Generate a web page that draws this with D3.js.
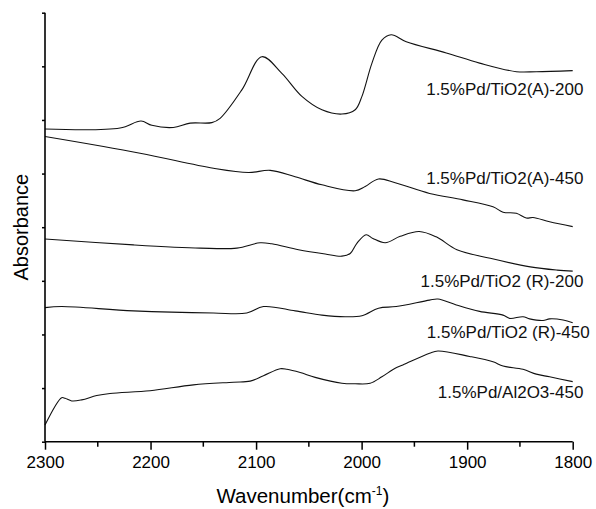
<!DOCTYPE html>
<html>
<head>
<meta charset="utf-8">
<script src="https://cdn.jsdelivr.net/npm/d3@7"></script>
<style>
  body { margin: 0; background: #fff; }
  svg { font-family: "Liberation Sans", Arial, sans-serif; }
</style>
</head>
<body>
<div id="chart"></div>
<script>
// Chart size
const width = 596;
const height = 509;
const margin = { top: 12.7, right: 23.3, bottom: 67.3, left: 45 };
const innerW = width - margin.left - margin.right;
const innerH = height - margin.top - margin.bottom;

// Data (wavenumber, absorbance in arbitrary offset units)
const names = [
  "1.5%Pd/TiO2(A)-200",
  "1.5%Pd/TiO2(A)-450",
  "1.5%Pd/TiO2 (R)-200",
  "1.5%Pd/TiO2 (R)-450",
  "1.5%Pd/Al2O3-450"
];

const tiA200 = [
  [2300, 5.83], [2228.9, 5.85], [2209, 5.98], [2198.8, 5.90], [2178.4, 5.86],
  [2162.5, 5.94], [2141.9, 5.95], [2134.1, 6.03], [2113.5, 6.56], [2094.5, 7.18],
  [2075.6, 6.87], [2056.6, 6.44], [2037.6, 6.19], [2018.7, 6.11], [2006.1, 6.19],
  [1999.7, 6.44], [1990.2, 7.06], [1980.8, 7.49], [1972, 7.59], [1957.7, 7.46],
  [1919.8, 7.25], [1888.2, 7.06], [1853.4, 6.90], [1834.5, 6.90], [1800, 6.92]
];

const tiA450 = [
  [2300, 5.69], [2209.9, 5.38], [2140.4, 5.10], [2107.2, 5.02], [2086.6, 5.06],
  [2063, 4.94], [2037.6, 4.79], [2006.1, 4.68], [1996.6, 4.76], [1984, 4.90],
  [1968.2, 4.83], [1935.6, 4.63], [1904, 4.51], [1875.5, 4.38], [1866, 4.28],
  [1853.4, 4.26], [1844, 4.17], [1837.6, 4.18], [1821.9, 4.10], [1800, 4.01]
];

const tiR200 = [
  [2300, 3.78], [2216.3, 3.67], [2153, 3.61], [2118.2, 3.61], [2096.1, 3.71],
  [2085.1, 3.69], [2059.8, 3.58], [2034.5, 3.50], [2018.7, 3.46], [2010.8, 3.51],
  [2004.5, 3.70], [1995.7, 3.86], [1989.3, 3.79], [1977.6, 3.71], [1963.4, 3.83],
  [1945.4, 3.92], [1929.3, 3.82], [1909.7, 3.58], [1878.1, 3.42], [1840.2, 3.26],
  [1814.8, 3.20], [1800, 3.18]
];

const tiR450 = [
  [2300, 2.50], [2284.2, 2.52], [2216.3, 2.44], [2140.4, 2.40], [2108.8, 2.40],
  [2093, 2.52], [2063, 2.44], [2037.6, 2.36], [2015.6, 2.33], [1999.7, 2.35],
  [1984, 2.49], [1967.2, 2.52], [1935.6, 2.64], [1927.7, 2.66], [1910.3, 2.55],
  [1888.2, 2.43], [1866, 2.36], [1859.7, 2.30], [1847.1, 2.33], [1840.8, 2.29],
  [1828.1, 2.26], [1821.9, 2.29], [1809.1, 2.27], [1800, 2.22]
];

const al450 = [
  [2300, 0.31], [2284.2, 0.82], [2281, 0.81], [2274.7, 0.76], [2265.2, 0.78],
  [2251, 0.86], [2238.4, 0.90], [2200.4, 0.95], [2159.4, 1.06], [2121.5, 1.11],
  [2105.6, 1.13], [2093, 1.23], [2077.2, 1.36], [2070.8, 1.35], [2058.2, 1.29],
  [2044, 1.20], [2018.7, 1.09], [2006.1, 1.08], [1991.9, 1.09], [1980.8, 1.21],
  [1968.2, 1.37], [1960.9, 1.43], [1935.6, 1.65], [1927.7, 1.69], [1897.7, 1.59],
  [1875.5, 1.49], [1866, 1.41], [1847.1, 1.35], [1834.5, 1.26], [1821.9, 1.21],
  [1800, 1.12]
];

const series = [tiA200, tiA450, tiR200, tiR450, al450];

// Label anchors (wavenumber, absorbance) - right aligned
const labelAt = [
  [1789.9, 6.47], [1789.9, 4.80], [1789.9, 2.89], [1783.9, 1.93], [1789.9, 0.81]
];

const xTicks = [2300, 2200, 2100, 2000, 1900, 1800];
const xMinor = [2250, 2150, 2050, 1950, 1850];
const yTicks = [0, 1, 2, 3, 4, 5, 6, 7, 8];

// SVG
const svg = d3.select("#chart")
  .append("svg")
  .attr("width", width)
  .attr("height", height);

const g = svg.append("g")
  .attr("transform", `translate(${margin.left},${margin.top})`);

// Scales
const x = d3.scaleLinear()
  .domain([2300, 1800])
  .range([0, innerW]);

const y = d3.scaleLinear()
  .domain([0, 8])
  .range([innerH, 0]);

// Lines
const line = d3.line()
  .x(d => x(d[0]))
  .y(d => y(d[1]))
  .curve(d3.curveCatmullRom.alpha(0.5));

g.selectAll(".spectrum")
  .data(series)
  .enter()
  .append("path")
  .attr("class", "spectrum")
  .attr("d", d => line(d))
  .attr("fill", "none")
  .attr("stroke", "#111")
  .attr("stroke-width", 1.1);

// Labels
g.selectAll(".lbl")
  .data(names)
  .enter()
  .append("text")
  .attr("class", "lbl")
  .attr("x", (d, i) => x(labelAt[i][0]))
  .attr("y", (d, i) => y(labelAt[i][1]))
  .attr("text-anchor", "end")
  .attr("font-size", "17px")
  .attr("fill", "#111")
  .text(d => d);

// X axis
const xAxis = g.append("g")
  .attr("transform", `translate(0,${innerH})`)
  .call(d3.axisBottom(x).tickValues(xTicks).tickSize(8).tickPadding(6).tickFormat(d3.format("d")));

xAxis.append("g")
  .selectAll("line")
  .data(xMinor)
  .enter()
  .append("line")
  .attr("x1", d => x(d))
  .attr("x2", d => x(d))
  .attr("y1", 0)
  .attr("y2", 5)
  .attr("stroke", "#000")
  .attr("stroke-width", 1.5);

xAxis.selectAll("text")
  .attr("font-size", "17px")
  .attr("font-family", "Liberation Sans, Arial, sans-serif")
  .attr("fill", "#000");

// Y axis
const yAxis = g.append("g")
  .call(d3.axisLeft(y).tickValues(yTicks).tickSize(3).tickFormat(""));

svg.selectAll(".domain")
  .attr("stroke", "#000")
  .attr("stroke-width", 1.6);
svg.selectAll(".tick line")
  .attr("stroke", "#000")
  .attr("stroke-width", 1.5);

// Remove outer ticks on domain path
xAxis.select(".domain").attr("d", `M0,0H${innerW}`);
yAxis.select(".domain").attr("d", `M0,0V${innerH}`);

// Axis titles
const xTitle = svg.append("text")
  .attr("x", margin.left + innerW / 2 - 6)
  .attr("y", 503)
  .attr("text-anchor", "middle")
  .attr("font-size", "20.5px")
  .attr("fill", "#000");
xTitle.append("tspan").text("Wavenumber(cm");
xTitle.append("tspan").attr("font-size", "12px").attr("dy", "-8").text("-1");
xTitle.append("tspan").attr("dy", "8").text(")");

svg.append("text")
  .attr("transform", `translate(28,${margin.top + innerH / 2}) rotate(-90)`)
  .attr("text-anchor", "middle")
  .attr("font-size", "20px")
  .attr("fill", "#000")
  .text("Absorbance");
</script>
</body>
</html>
